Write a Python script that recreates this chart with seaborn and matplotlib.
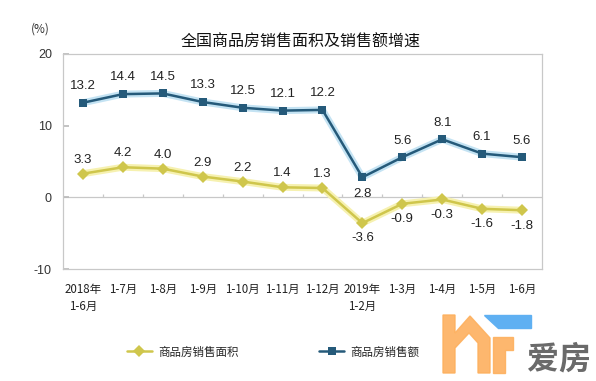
import numpy as np
import pandas as pd
import matplotlib
matplotlib.use("Agg")
import matplotlib.pyplot as plt
from matplotlib.patches import Polygon
import seaborn as sns

# ── data ────────────────────────────────────────────────────────────────
periods = ["2018年\n1-6月", "1-7月", "1-8月", "1-9月", "1-10月", "1-11月",
           "1-12月", "2019年\n1-2月", "1-3月", "1-4月", "1-5月", "1-6月"]
area_growth = [3.3, 4.2, 4.0, 2.9, 2.2, 1.4, 1.3, -3.6, -0.9, -0.3, -1.6, -1.8]
sales_growth = [13.2, 14.4, 14.5, 13.3, 12.5, 12.1, 12.2, 2.8, 5.6, 8.1, 6.1, 5.6]
yticks = [-10, 0, 10, 20]

area_name = "商品房销售面积"
sales_name = "商品房销售额"
title = "全国商品房销售面积及销售额增速"

sns.set_theme(style="white")
plt.rcParams["font.family"] = ["Noto Sans CJK SC", "DejaVu Sans"]

W, H = 596, 381
fig = plt.figure(figsize=(W / 100, H / 100), dpi=100)
ax = fig.add_axes([63 / W, 1 - 269 / H, (542 - 63) / W, (269 - 54) / H])

df = pd.DataFrame({"x": np.arange(len(periods)),
                   "area": area_growth, "sales": sales_growth})

c_sales, g_sales = "#255a7a", "#c4e3f3"
c_area, g_area = "#cfc64c", "#f6f1b0"

# soft glow under each line
sns.lineplot(data=df, x="x", y="sales", ax=ax, color=g_sales, lw=5,
             zorder=2, legend=False)
sns.lineplot(data=df, x="x", y="area", ax=ax, color=g_area, lw=5,
             zorder=2, legend=False)
sns.lineplot(data=df, x="x", y="sales", ax=ax, color=c_sales, lw=1.8,
             marker="s", markersize=6, markeredgewidth=0, label=sales_name,
             zorder=3)
sns.lineplot(data=df, x="x", y="area", ax=ax, color=c_area, lw=1.8,
             marker="D", markersize=6, markeredgewidth=0, label=area_name,
             zorder=3)

# value labels
lab_font = dict(family=["Liberation Sans", "DejaVu Sans"], fontsize=9.5,
                color="#222222", ha="center", va="center")
for i, v in enumerate(sales_growth):
    dy = -12 if i == 7 else 12
    ax.annotate(f"{v:.1f}", (i, v), xytext=(0, dy), textcoords="offset points",
                **lab_font)
for i, v in enumerate(area_growth):
    dy = 10 if v >= 0 else -11
    ax.annotate(f"{v:.1f}", (i, v), xytext=(0, dy), textcoords="offset points",
                **lab_font)

ax.set_xlim(-0.5, len(periods) - 0.5)
ax.set_ylim(-10, 20)
ax.set_yticks(yticks)
ax.set_yticklabels([str(t) for t in yticks],
                   fontfamily=["Liberation Sans", "DejaVu Sans"], fontsize=9,
                   color="#333333")
ax.set_xticks(df["x"])
ax.set_xticklabels(periods, fontsize=8.3, color="#222222", linespacing=1.4)
ax.tick_params(axis="x", length=0, pad=10)
ax.tick_params(axis="y", direction="in", length=4, color="#bbbbbb", pad=8,
               left=True)
ax.set_xlabel("")
ax.set_ylabel("")

for s in ax.spines.values():
    s.set_color("#c8c8c8")
    s.set_linewidth(0.9)
ax.axhline(0, color="#c8c8c8", lw=0.9, zorder=0)
# small category boundary ticks on the zero line
ax.vlines(np.arange(0.5, len(periods) - 0.5), 0, 0.5, color="#c8c8c8", lw=0.9)

ax.get_legend().remove()
fig.text(301 / W, 1 - 42 / H, title, fontsize=11.5, ha="center", va="center",
         color="#111111")
fig.text(40 / W, 1 - 29 / H, "(%)", fontsize=8.5, ha="center", va="center",
         color="#333333")

handles, labels = ax.get_legend_handles_labels()
fig.legend(handles[::-1], labels[::-1], loc="center", ncol=2, frameon=False,
           bbox_to_anchor=(273 / W, 1 - 352 / H), fontsize=8.3,
           handlelength=2.2, handletextpad=0.5, columnspacing=7.0)

# watermark logo
def px(pts):
    return [(x / W, 1 - y / H) for x, y in pts]

orange = "#fdb05e"
fig.add_artist(Polygon(px([(443, 315), (455, 315), (455, 333), (470, 316),
                           (490, 338), (490, 373), (478, 373), (478, 343),
                           (469, 333), (455, 348), (455, 373), (443, 373)]),
                       closed=True, transform=fig.transFigure, color=orange,
                       alpha=0.9))
fig.add_artist(Polygon(px([(493, 337), (513, 337), (513, 350), (505, 350),
                           (505, 373), (493, 373)]),
                       closed=True, transform=fig.transFigure, color=orange,
                       alpha=0.9))
fig.add_artist(Polygon(px([(484, 315), (531, 315), (531, 328), (498, 328)]),
                       closed=True, transform=fig.transFigure, color="#5fb0f2"))
fig.text(559 / W, 1 - 359 / H, "爱房", fontsize=23, fontweight="bold",
         color="#6a6a6a", ha="center", va="center")

fig.savefig("out.png", dpi=100)
